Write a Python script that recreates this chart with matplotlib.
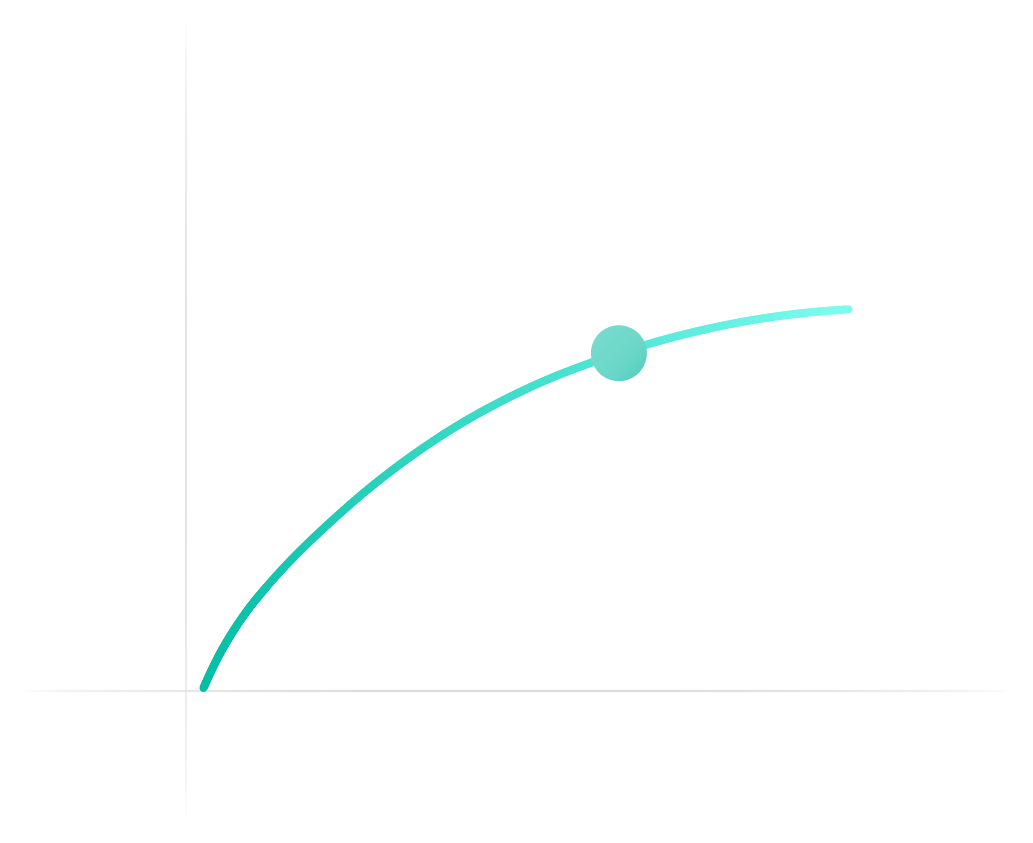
import numpy as np
import matplotlib
matplotlib.use("Agg")
import matplotlib.pyplot as plt
from matplotlib.collections import LineCollection
from matplotlib.colors import LinearSegmentedColormap
from matplotlib.patches import Circle
from matplotlib.path import Path

# curve values
x_vals = [0, 2.56, 4.6, 7.21, 9.8, 21.2, 36.7, 49.5, 64.4, 81.1, 100.0]
y_vals = [0, 5.35, 8.8, 12.56, 15.7, 27.1, 39.0, 46.1, 51.9, 56.3, 58.7]

# highlighted point
point_x = 64.4
point_y = 51.9

# axis line positions
x_axis_y = -0.47
y_axis_x = -2.7

line_cmap = LinearSegmentedColormap.from_list(
    "teal", ["#06bea4", "#2fd6c0", "#52e8d8", "#7dfcee"])
dot_cmap = LinearSegmentedColormap.from_list(
    "dot", ["#78dccd", "#6bd7c8", "#4ccdbd"])

scale = 6.45  # pixels per data unit
x0_px, y0_px = 203.5, 688
fig = plt.figure(figsize=(10.33, 8.43), dpi=100)
ax = fig.add_axes([0, 0, 1, 1])
ax.axis("off")


def faded_line(xa, ya, xb, yb, color, lw, n=200):
    t = np.linspace(0, 1, n)
    xs = xa + (xb - xa) * t
    ys = ya + (yb - ya) * t
    pts = np.column_stack([xs, ys]).reshape(-1, 1, 2)
    segs = np.concatenate([pts[:-1], pts[1:]], axis=1)
    rgba = np.tile(matplotlib.colors.to_rgba(color), (n - 1, 1))
    rgba[:, 3] = np.sin(np.pi * t[:-1]) ** 0.6
    ax.add_collection(LineCollection(segs, colors=rgba, linewidths=lw,
                                     capstyle="butt", zorder=1))


faded_line((20 - x0_px) / scale, x_axis_y, (1005 - x0_px) / scale, x_axis_y,
           "#dcdcdc", 1.6)
faded_line(y_axis_x, (y0_px - 820) / scale, y_axis_x, (y0_px - 25) / scale,
           "#e2e2e2", 1.4)

# smooth line through the points, drawn as a cubic Bezier path
x = np.array(x_vals)
y = np.array(y_vals)
h = np.diff(x)
d = np.diff(y) / h
m = np.empty_like(x)
m[1:-1] = (d[:-1] * h[1:] + d[1:] * h[:-1]) / (h[:-1] + h[1:])
m[0] = d[0] + (d[0] - d[1]) * h[0] / (h[0] + h[1])
m[-1] = d[-1] + (d[-1] - d[-2]) * h[-1] / (h[-1] + h[-2])

verts = [(x[0], y[0])]
codes = [Path.MOVETO]
for i in range(len(x) - 1):
    verts += [(x[i] + h[i] / 3, y[i] + m[i] * h[i] / 3),
              (x[i + 1] - h[i] / 3, y[i + 1] - m[i + 1] * h[i] / 3),
              (x[i + 1], y[i + 1])]
    codes += [Path.CURVE4] * 3
path = Path(verts, codes)

pts = np.vstack([seg(np.linspace(0, 1, 30)) for seg, _ in path.iter_bezier()])
pts = pts.reshape(-1, 1, 2)
segs = np.concatenate([pts[:-1], pts[1:]], axis=1)
lc = LineCollection(segs, cmap=line_cmap, linewidths=5.8, capstyle="round",
                    joinstyle="round", zorder=3)
lc.set_array(pts[:-1, 0, 0] / x_vals[-1])
ax.add_collection(lc)

# highlighted dot with a soft diagonal gradient
r = 28 / scale
circ = Circle((point_x, point_y), r, transform=ax.transData)
gy, gx = np.mgrid[0:1:100j, 0:1:100j]
grad = np.clip((gx + gy) / 2, 0, 1) ** 1.5
img = ax.imshow(grad, cmap=dot_cmap, origin="upper",
                extent=[point_x - r, point_x + r, point_y - r, point_y + r],
                zorder=4, interpolation="bilinear")
img.set_clip_path(circ)

ax.set_aspect("auto")
ax.set_xlim(-x0_px / scale, (1033 - x0_px) / scale)
ax.set_ylim(-(843 - y0_px) / scale, y0_px / scale)

fig.savefig("out.png", dpi=100, facecolor="white")
